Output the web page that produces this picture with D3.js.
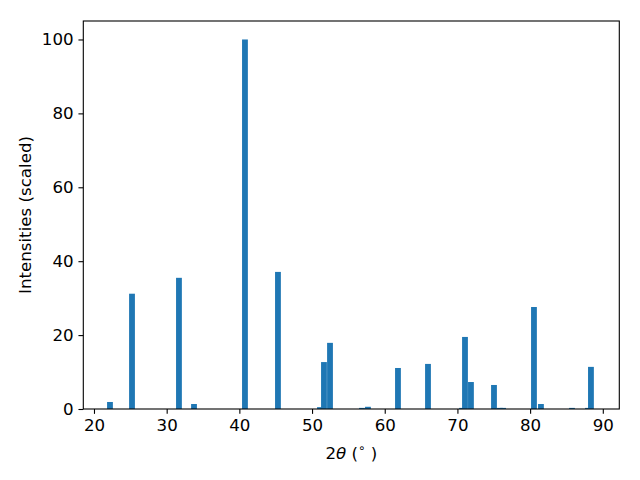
<!DOCTYPE html>
<html>
<head>
<meta charset="utf-8">
<script src="https://cdn.jsdelivr.net/npm/d3@7"></script>
<style>
  html, body { margin: 0; padding: 0; background: #fff; }
  text { font-family: "DejaVu Sans", sans-serif; fill: #000; }
</style>
</head>
<body>
<svg id="chart" width="640" height="480"></svg>
<script>
// Peak positions (2θ, degrees) and scaled intensities
const twoTheta = [22.20, 25.23, 31.69, 33.76, 40.77, 45.31, 51.09, 51.64, 52.47, 56.87,
                  57.69, 61.82, 65.95, 70.63, 71.04, 71.86, 75.03, 75.85, 76.28, 80.53,
                  81.49, 85.76, 87.96, 88.37];
const intensity = [1.9, 31.2, 35.5, 1.35, 100, 37.1, 0.5, 12.7, 17.9, 0.3,
                   0.6, 11.1, 12.2, 0.3, 19.5, 7.3, 6.5, 0.3, 0.3, 27.6,
                   1.35, 0.3, 0.3, 11.4];
const xTicks = [20, 30, 40, 50, 60, 70, 80, 90];
const yTicks = [0, 20, 40, 60, 80, 100];
const barWidth = 0.8;

const svg = d3.select("#chart");
const pLeft = 83.3, pRight = 619.3, pTop = 21, pBottom = 409;

const x = d3.scaleLinear().domain([18.53, 92.27]).range([pLeft, pRight]);
const y = d3.scaleLinear().domain([0, 105]).range([pBottom, pTop]);

const data = twoTheta.map((t, i) => ({ t, v: intensity[i] }));

svg.append("g").selectAll("rect").data(data).enter().append("rect")
  .attr("x", d => x(d.t - barWidth / 2))
  .attr("width", d => x(d.t + barWidth / 2) - x(d.t - barWidth / 2))
  .attr("y", d => y(d.v))
  .attr("height", d => y(0) - y(d.v))
  .attr("fill", "#1f77b4");

const fs = 16.67;
const xAxis = d3.axisBottom(x).tickValues(xTicks).tickSize(4.86).tickPadding(4.86).tickFormat(d3.format("d"));
const yAxis = d3.axisLeft(y).tickValues(yTicks).tickSize(4.86).tickPadding(4.86).tickFormat(d3.format("d"));

const gx = svg.append("g").attr("transform", `translate(0,${pBottom})`).call(xAxis);
const gy = svg.append("g").attr("transform", `translate(${pLeft},0)`).call(yAxis);
[gx, gy].forEach(g => {
  g.select(".domain").remove();
  g.selectAll(".tick line").attr("stroke", "#000").attr("stroke-width", 1.1);
  g.selectAll(".tick text").attr("font-size", fs).attr("font-family", "DejaVu Sans").attr("fill", "#000");
});

// frame
svg.append("rect")
  .attr("x", pLeft).attr("y", pTop)
  .attr("width", pRight - pLeft).attr("height", pBottom - pTop)
  .attr("fill", "none").attr("stroke", "#000").attr("stroke-width", 1.1);

// x label
const xl = svg.append("text")
  .attr("x", (pLeft + pRight) / 2).attr("y", 459)
  .attr("text-anchor", "middle").attr("font-size", fs);
xl.append("tspan").text("2");
xl.append("tspan").attr("font-style", "italic").text("θ");
xl.append("tspan").text(" (");
xl.append("tspan").attr("font-size", fs * 0.7).attr("dy", -7).text("∘");
xl.append("tspan").attr("dy", 7).text(" )");

// y label
svg.append("text")
  .attr("transform", `translate(31,${(pTop + pBottom) / 2}) rotate(-90)`)
  .attr("text-anchor", "middle").attr("font-size", fs)
  .text("Intensities (scaled)");
</script>
</body>
</html>
